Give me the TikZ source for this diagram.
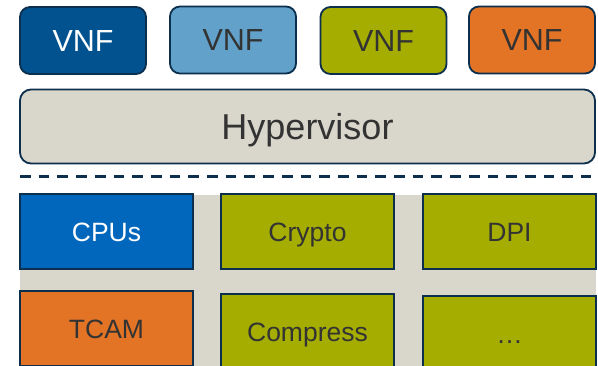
\documentclass[tikz,border=0pt]{standalone}
\usepackage{fontspec}
\setmainfont{Liberation Sans}
\definecolor{edge}{HTML}{0C2F4E}
\definecolor{txt}{HTML}{333333}
\definecolor{navy}{HTML}{02528F}
\definecolor{sky}{HTML}{62A1CA}
\definecolor{olive}{HTML}{A4AD00}
\definecolor{orng}{HTML}{E37325}
\definecolor{beige}{HTML}{D9D7CB}
\definecolor{cpu}{HTML}{0067BD}
\tikzset{
  label/.style={inner sep=0pt, text depth=0pt, text=txt},
  vnf/.style={label, draw=edge, line width=1.8pt, rounded corners=10pt,
    minimum width=126pt, minimum height=67pt, text height=21.8pt,
    font=\fontsize{30.5}{30.5}\selectfont},
  hyp/.style={label, draw=edge, line width=1.8pt, rounded corners=11pt, fill=beige,
    minimum width=575pt, minimum height=74pt, text height=25.8pt,
    font=\fontsize{36}{36}\selectfont},
  unit/.style={label, draw=edge, line width=1.8pt,
    minimum width=173pt, minimum height=75pt, text height=19pt,
    font=\fontsize{26.5}{26.5}\selectfont},
}
\begin{document}
\begin{tikzpicture}[x=1pt, y=-1pt]
  \clip (0,0) rectangle (598,365);
  \fill[white] (0,0) rectangle (598,365);

  % virtual network functions
  \node[vnf, fill=navy, text=white] (v1) at (83,40.5)  {VNF};
  \node[vnf, fill=sky]              (v2) at (233,40)   {VNF};
  \node[vnf, fill=olive]            (v3) at (383.5,40.5) {VNF};
  \node[vnf, fill=orng]             (v4) at (532,40)   {VNF};

  % hypervisor layer
  \node[hyp] (hv) at (307.5,126.5) {Hypervisor};

  % software / hardware boundary
  \coordinate (d1) at (20,176.5);
  \coordinate (d2) at (591,176.5);
  \draw[edge, line width=2.4pt, dash pattern=on 10.7pt off 8pt] (d1) -- (d2);

  % hardware resources
  \fill[beige] (20,195) rectangle (596,370);
  \node[unit, fill=cpu, text=white] (cpu) at (106.5,231.5) {CPUs};
  \node[unit, fill=olive] (cry) at (307.5,231.5) {Crypto};
  \node[unit, fill=olive] (dpi) at (509.5,231.5) {DPI};
  \node[unit, fill=orng]  (tcam) at (106.5,328.5) {TCAM};
  \node[unit, fill=olive] (cmp) at (307.5,331.5) {Compress};
  \node[unit, fill=olive] (etc) at (509.5,333.5) {\ldots};
\end{tikzpicture}
\end{document}
